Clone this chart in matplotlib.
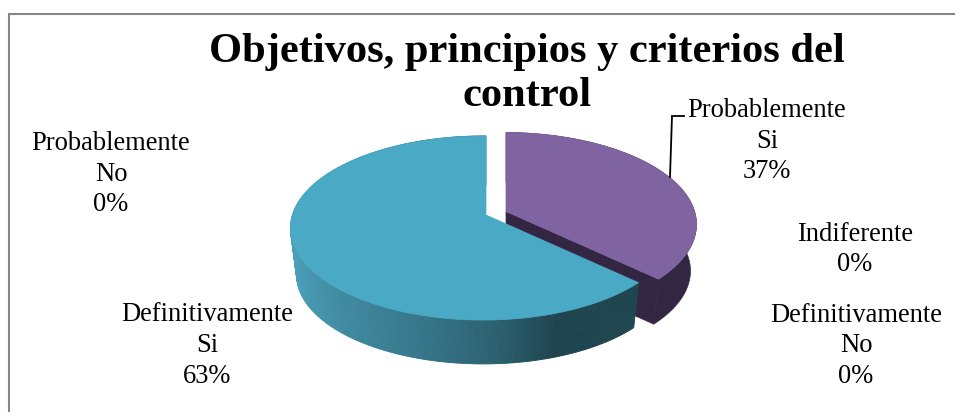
import numpy as np
import matplotlib
matplotlib.use("Agg")
import matplotlib.pyplot as plt
from matplotlib.collections import PolyCollection
from matplotlib.patches import Polygon

categories = ["Definitivamente\nSi", "Probablemente\nSi", "Indiferente", "Probablemente\nNo", "Definitivamente\nNo"]
percentages = [63, 37, 0, 0, 0]
title_text = "Objetivos, principios y criterios del\ncontrol"

W, H = 955, 412
fig = plt.figure(figsize=(W / 100, H / 100), dpi=100)
ax = fig.add_axes([0, 0, 1, 1])
ax.set_xlim(0, W)
ax.set_ylim(H, 0)
ax.axis("off")
plt.rcParams["font.family"] = ["Liberation Serif", "DejaVu Serif"]

TOP = dict(x0=486.0, y0=215.0, A=191.0, B=90.2)
BOTTOM = dict(x0=486.0, y0=262.0, A=185.0, B=87.5)
K, M = 0.1414, 0.013


def project(theta, r, plane, dx=0.0, dy=0.0):
    """Map pie angle (clockwise from 12 o'clock) onto the tilted disc."""
    u, v = r * np.sin(theta), -r * np.cos(theta)
    w = 1 - K * v + M * u
    return plane["x0"] + dx + plane["A"] * u / w, plane["y0"] + dy + plane["B"] * v / w


def rim(a, b, plane, dx=0.0, dy=0.0, n=240):
    t = np.linspace(a, b, n)
    return np.column_stack(project(t, 1.0, plane, dx, dy))


def shade(x, stops):
    xs, cols = zip(*stops)
    cols = np.array([matplotlib.colors.to_rgb(c) for c in cols])
    return np.column_stack([np.interp(x, xs, cols[:, i]) for i in range(3)])


purple_sweep = 2 * np.pi * percentages[1] / 100
ex_dx, ex_dy = 20.0, -3.5

# Exploded purple slice: walls first, then the top face
pa, pb = 0.0, purple_sweep
dark = "#322643"
outer = np.vstack([rim(pa, pb, TOP, ex_dx, ex_dy), rim(pa, pb, BOTTOM, ex_dx, ex_dy)[::-1]])
ax.add_patch(Polygon(outer, closed=True, fc=dark, ec=dark, lw=0.5, zorder=2))
apex_top = project(0.0, 0.0, TOP, ex_dx, ex_dy)
apex_bot = project(0.0, 0.0, BOTTOM, ex_dx, ex_dy)
cut = [apex_top, project(pb, 1.0, TOP, ex_dx, ex_dy), project(pb, 1.0, BOTTOM, ex_dx, ex_dy), apex_bot]
ax.add_patch(Polygon(cut, closed=True, fc=dark, ec=dark, lw=0.5, zorder=3))
ax.add_patch(Polygon(np.vstack([[apex_top], rim(pa, pb, TOP, ex_dx, ex_dy)]), closed=True,
                     fc="#8064A2", ec="#8064A2", lw=0.5, zorder=4))

# Teal slice: shaded outer wall and flat top face
ta, tb = purple_sweep, 2 * np.pi
t = np.linspace(ta, tb, 361)
top_x, top_y = project(t, 1.0, TOP)
bot_x, bot_y = project(t, 1.0, BOTTOM)
quads = [[(top_x[i], top_y[i]), (top_x[i + 1], top_y[i + 1]), (bot_x[i + 1], bot_y[i + 1]), (bot_x[i], bot_y[i])]
         for i in range(len(t) - 1)]
stops = [(290, "#4A9FB8"), (340, "#3F8AA0"), (420, "#36768A"), (500, "#2B5F6F"), (557, "#1E444E"), (640, "#1F4650")]
wall_cols = shade((top_x[:-1] + top_x[1:]) / 2, stops)
ax.add_collection(PolyCollection(quads, facecolors=wall_cols, edgecolors=wall_cols, linewidths=0.6, zorder=5))
ax.add_patch(Polygon(np.vstack([[project(0.0, 0.0, TOP)], rim(ta, tb, TOP)]), closed=True,
                     fc="#4AA9C4", ec="#4AA9C4", lw=0.5, zorder=6))

# Chart frame
ax.plot([9, 9, W], [H, 13.5, 13.5], color="#868686", lw=1.5, solid_joinstyle="miter", zorder=1)

# Leader line for the purple slice
ax.plot([670, 672, 684], [177, 116, 116], color="black", lw=1.3, solid_joinstyle="miter", zorder=7)

ax.text(527, 74, title_text, ha="center", va="center", fontsize=30.6, fontweight="bold",
        linespacing=1.2, color="black")

label_pos = [(207.5, 345.5), (767, 141), (855, 249.5), (111, 174), (856, 346)]
for name, pct, (x, y) in zip(categories, percentages, label_pos):
    ax.text(x, y, f"{name}\n{pct}%", ha="center", va="center", fontsize=19.1, linespacing=1.31, color="black")

fig.savefig("out.png", dpi=100)
